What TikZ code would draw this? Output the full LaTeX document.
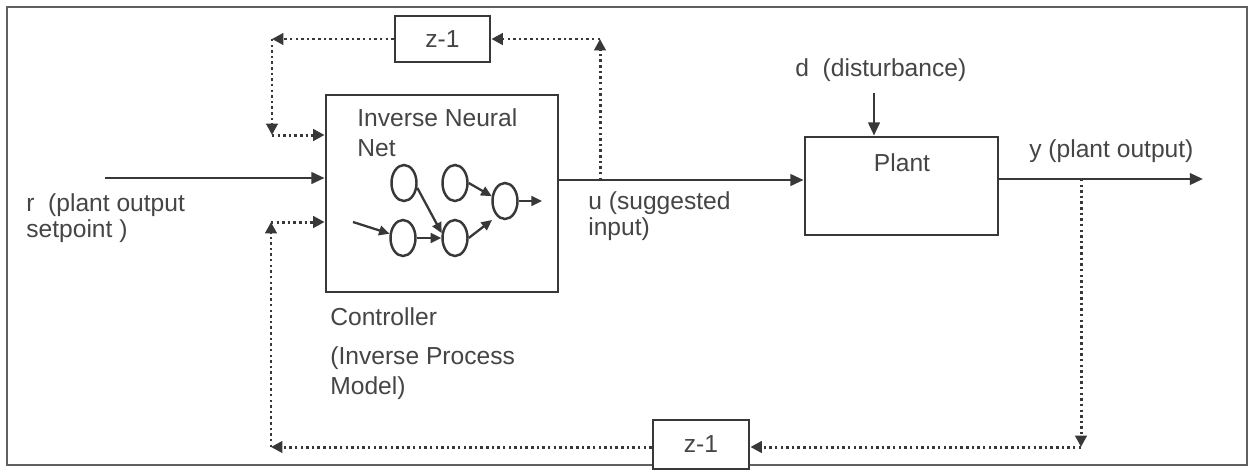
\documentclass[tikz,border=0pt]{standalone}
\usepackage{fontspec}
\setmainfont{Liberation Sans}
\usetikzlibrary{arrows.meta,shapes.geometric,calc}
\definecolor{ln}{HTML}{383838}
\definecolor{tx}{HTML}{454545}
\definecolor{fr}{HTML}{606060}
\begin{document}
\begin{tikzpicture}[x=0.02cm,y=-0.02cm,
  every node/.style={font=\fontsize{14}{17}\selectfont, text=tx},
  box/.style={draw=ln, line width=1.6pt, inner sep=0pt},
  txt/.style={inner sep=0pt, anchor=west, align=left},
  arr/.style={draw=ln, line width=1.5pt, -{Triangle[length=7.5pt,width=6.5pt]}},
  dotarr/.style={draw=ln, line width=1.7pt, dash pattern=on 1.4pt off 1.8pt, -{Triangle[length=6.5pt,width=6.5pt]}},
  neuron/.style={ellipse, draw=ln, line width=1.4pt, minimum width=0.5cm, minimum height=0.72cm, inner sep=0pt},
  narr/.style={draw=ln, line width=1.3pt, -{Triangle[length=6pt,width=5.5pt]}}
]
\useasboundingbox (0,0) rectangle (1251,471);
\fill[white] (0,0) rectangle (1251,471);
\draw[fr, line width=1.4pt] (7,7) rectangle (1247,465);

% boxes
\node[box, minimum width=4.64cm, minimum height=3.94cm] (ctrl) at (442,193.5) {};
\node[box, minimum width=3.86cm, minimum height=1.96cm] (plant) at (901.5,186) {};
\node[box, fill=white, minimum width=1.9cm, minimum height=0.92cm] (zt) at (442.5,39) {z-1};
\node[box, fill=white, minimum width=1.92cm, minimum height=0.98cm] (zb) at (701,444.5) {z-1};

% texts
\node[txt, font=\fontsize{14}{17}\selectfont] (nnlbl) at (357,133) {Inverse Neural\\Net};
\node[inner sep=0pt] (plantlbl) at (902,163) {Plant};
\node[txt, font=\fontsize{14}{15}\selectfont] (rlbl) at (26,218) {r\ \ (plant output\\setpoint )};
\node[txt, font=\fontsize{14}{15}\selectfont] (ulbl) at (588,216) {u (suggested\\input)};
\node[txt] (clbl) at (330,317) {Controller};
\node[txt, font=\fontsize{14}{17}\selectfont] (plbl) at (330,373) {(Inverse Process\\Model)};
\node[txt] (dlbl) at (795,70) {d\ \ (disturbance)};
\node[txt] (ylbl) at (1029,151) {y (plant output)};

% neurons
\node[neuron] (n1) at (404,183) {};
\node[neuron] (n2) at (455,183) {};
\node[neuron] (n3) at (505,201) {};
\node[neuron] (n4) at (403,238) {};
\node[neuron] (n5) at (455,238) {};
\coordinate (nin) at (353,222);
\coordinate (nout) at (542,201);
\draw[narr] (nin) -- (n4);
\draw[narr] (n4) -- (n5);
\draw[narr] (n1.-20) -- (n5.160);
\draw[narr] (n2.east) -- (n3.160);
\draw[narr] (n5.east) -- ($(n3.center)+(-13,19)$);
\draw[narr] (n3.east) -- (nout);

% main signal path
\coordinate (rin) at (105,178);
\coordinate (utap) at (600,180);
\coordinate (ytap) at (1081,179);
\coordinate (yout) at (1203,179);
\coordinate (din) at (874,93);
\draw[arr] (rin) -- (rin -| ctrl.west);
\draw[arr] (ctrl.east |- utap) -- (plant.west |- utap);
\draw[arr] (plant.east |- ytap) -- (yout);
\draw[arr] (din) -- (din |- plant.north);

% top feedback (u delayed)
\coordinate (tr) at (600,39);
\coordinate (tl) at (272,39);
\coordinate (tlb) at (272,135);
\draw[dotarr] (utap) -- (tr);
\draw[dotarr] (tr) -- (zt.east |- tr);
\draw[dotarr] (zt.west |- tr) -- (tl);
\draw[dotarr] (tl) -- (tlb);
\draw[dotarr] (tlb) -- (tlb -| ctrl.west);

% bottom feedback (y delayed)
\coordinate (br) at (1081,447);
\coordinate (bl) at (271,447);
\coordinate (blt) at (271,222);
\draw[dotarr] (ytap) -- (br);
\draw[dotarr] (br) -- (zb.east |- br);
\draw[dotarr] (zb.west |- br) -- (bl);
\draw[dotarr] (bl) -- (blt);
\draw[dotarr] (blt) -- (blt -| ctrl.west);
\end{tikzpicture}
\end{document}
